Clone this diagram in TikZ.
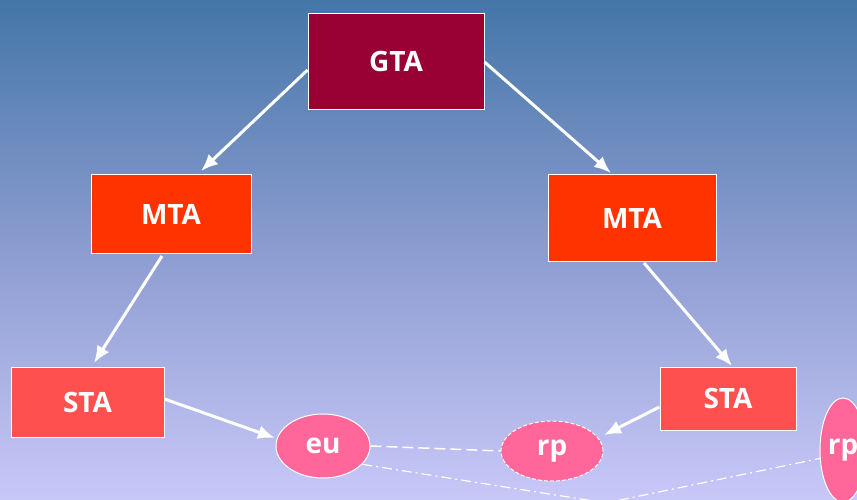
\documentclass[tikz,border=0pt]{standalone}
\usepackage{fontspec}
\setmainfont{Open Sans}
\usetikzlibrary{arrows.meta,shapes.geometric}
\definecolor{gtac}{HTML}{990033}
\definecolor{mtac}{HTML}{FF3300}
\definecolor{stac}{HTML}{FF5050}
\definecolor{elc}{HTML}{FF6699}
\definecolor{bgtop}{HTML}{4476A8}
\definecolor{bgmid}{HTML}{8C9CD0}
\definecolor{bgbot}{HTML}{C8C8F8}
\tikzset{
  box/.style={draw=white, line width=1pt, inner sep=0pt, font=\fontsize{28}{32}\selectfont\bfseries, text=white},
  ell/.style={ellipse, draw=white, line width=1pt, fill=elc, inner sep=0pt, font=\fontsize{28}{32}\selectfont\bfseries, text=white},
  arr/.style={draw=white, line width=3pt, -{Latex[length=17pt,width=14pt]}},
  dsh/.style={draw=white, line width=1.5pt, dash pattern=on 11pt off 5pt},
  dd/.style={draw=white, line width=1.2pt, dash pattern=on 10pt off 4pt on 2pt off 4pt}
}
\begin{document}
\begin{tikzpicture}[x=1pt,y=-1pt]
\useasboundingbox (0,0) rectangle (857,500);
\shade[top color=bgtop, bottom color=bgbot, middle color=bgmid] (0,0) rectangle (857,500);
\node[box, fill=gtac, minimum width=176pt, minimum height=96pt] (gta) at (396,62) {GTA};
\node[box, fill=mtac, minimum width=160pt, minimum height=78pt] (mtal) at (171,214) {MTA};
\node[box, fill=mtac, minimum width=168pt, minimum height=86pt] (mtar) at (632,218) {MTA};
\node[box, fill=stac, minimum width=153pt, minimum height=70pt] (stal) at (87.5,402) {STA};
\node[box, fill=stac, minimum width=136pt, minimum height=63pt] (star) at (728,398.5) {STA};
\node[ell, minimum width=94pt, minimum height=64pt] (eu) at (323,446) {eu};
\node[ell, dashed, dash pattern=on 4pt off 2pt, minimum width=102pt, minimum height=60pt] (rp1) at (552,451) {rp};
\node[ell, minimum width=46pt, minimum height=104pt] (rp2) at (843,450) {rp};
\coordinate (m) at (606,503);
\draw[arr] (gta.west |- 0,70) -- (201,171);
\draw[arr] (gta.east |- 0,62) -- (611,173);
\draw[arr] (162,256) -- (94,363);
\draw[arr] (644,263) -- (732,366);
\draw[arr] (stal.east |- 0,399) -- (275,438);
\draw[arr] (star.west |- 0,407) -- (604,435);
\draw[dsh] (eu.east) -- (rp1.west);
\draw[dd] (eu.-25) -- (m) -- (rp2.200);
\end{tikzpicture}
\end{document}
